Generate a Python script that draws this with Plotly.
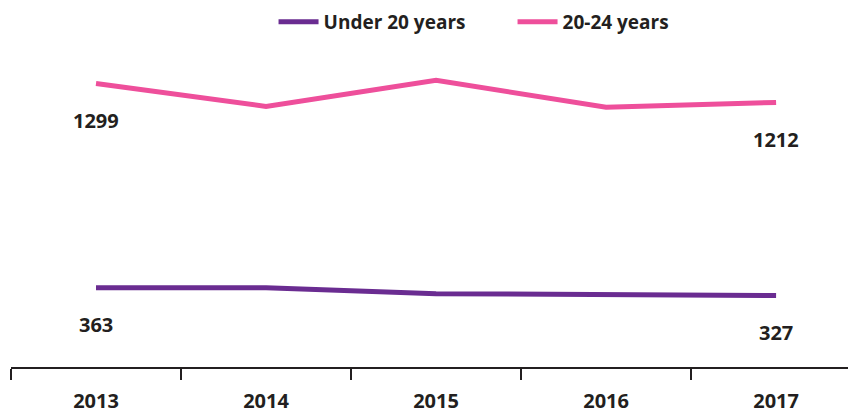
import plotly.graph_objects as go

years = ["2013", "2014", "2015", "2016", "2017"]
under_20 = [363, 363, 336, 331, 327]
age_20_24 = [1299, 1194, 1313, 1190, 1212]

PURPLE = "#6a2c91"
PINK = "#ee4f9b"
INK = "#231f20"
FONT = "Open Sans"

fig = go.Figure()
fig.add_trace(go.Scatter(x=years, y=under_20, mode="lines", name="<b>Under 20 years</b>",
                         line=dict(color=PURPLE, width=5), hoverinfo="x+y"))
fig.add_trace(go.Scatter(x=years, y=age_20_24, mode="lines", name="<b>20-24 years</b>",
                         line=dict(color=PINK, width=5), hoverinfo="x+y"))

# first / last value labels under each line (x given as category index)
for series in (under_20, age_20_24):
    for i in (0, len(years) - 1):
        fig.add_annotation(x=i, y=series[i], xref="x", yref="y",
                           text=f"<b>{series[i]}</b>",
                           showarrow=False, yshift=-37,
                           font=dict(family=FONT, size=20, color=INK))

# page body has an 8px margin, so the figure is trimmed to fit the window
fig.update_layout(
    width=848, height=405,
    margin=dict(l=3, r=0, t=32, b=46, autoexpand=False),
    paper_bgcolor="white", plot_bgcolor="white",
    font=dict(family=FONT, size=19, color=INK),
    showlegend=True,
    legend=dict(orientation="h", x=0.3107, xanchor="left",
                yref="container", y=1 - 14 / 405, yanchor="middle",
                font=dict(family=FONT, size=19, color=INK),
                itemwidth=40, entrywidth=184, entrywidthmode="pixels"),
)
fig.update_xaxes(
    type="category", range=[-0.5, 4.47], tickson="boundaries",
    showline=True, linecolor=INK, linewidth=2,
    ticks="outside", ticklen=11, tickwidth=2, tickcolor=INK,
    ticklabelstandoff=15,
    tickvals=years, ticktext=[f"<b>{y}</b>" for y in years],
    showgrid=False, zeroline=False,
    tickfont=dict(family=FONT, size=20, color=INK),
)
fig.update_yaxes(range=[0, 1498], visible=False, showgrid=False, zeroline=False)

fig.write_html("out.html")
